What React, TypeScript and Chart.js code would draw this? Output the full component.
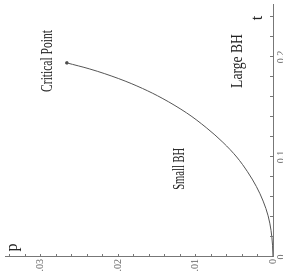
import React, { useEffect, useRef } from "react";
import { Chart, registerables } from "chart.js";

Chart.register(...registerables);

// Coexistence curve p(t)
const tValues = [0, 0.0118, 0.0265, 0.0412, 0.0559, 0.0706, 0.0853, 0.1, 0.1147, 0.1294, 0.1441, 0.1588, 0.1686, 0.1784, 0.1882, 0.1941];
const pValues = [0, 0.00006, 0.00025, 0.00063, 0.00127, 0.00215, 0.00329, 0.00468, 0.00646, 0.00861, 0.01114, 0.0143, 0.01684, 0.0199, 0.0237, 0.02658];

const criticalT = [0.1941];
const criticalP = [0.02658];

const tMajorTicks = [0, 0.1, 0.2];
const tTickLabels = ["0", "0.1", "0.2"];
const tMinorTicks = [0.02, 0.04, 0.06, 0.08, 0.1, 0.12, 0.14, 0.16, 0.18, 0.2, 0.22, 0.24];

const pMajorTicks = [0, 0.01, 0.02, 0.03];
const pTickLabels = ["0", "0.01", "0.02", "0.03"];
const pMinorTicks = [0.002, 0.004, 0.006, 0.008, 0.01, 0.012, 0.014, 0.016, 0.018, 0.02, 0.022, 0.024, 0.026, 0.028, 0.03, 0.032, 0.034];

const annotationTexts = ["Critical Point", "Small BH", "Large BH"];
const annotationT = [0.196, 0.0882, 0.196];
const annotationP = [0.0291, 0.012, 0.0046];
const annotationStretch = [0.72, 0.66, 0.85];

const axisTitles = ["p", "t"];
const axisTitleT = [0.0095, 0.239];
const axisTitleP = [0.0335, 0.0019];

const T_MAX = 0.252;
const P_MAX = 0.03456;

const decorPlugin = {
  id: "decor",
  afterDraw(chart: any) {
    const ctx: CanvasRenderingContext2D = chart.ctx;
    const xs = chart.scales.x;
    const ys = chart.scales.y;
    const area = chart.chartArea;
    ctx.save();
    // inward tick marks
    ctx.strokeStyle = "#777";
    ctx.lineWidth = 1;
    ctx.beginPath();
    tMinorTicks.forEach((v) => {
      const x = Math.round(xs.getPixelForValue(v)) + 0.5;
      ctx.moveTo(x, area.bottom);
      ctx.lineTo(x, area.bottom - 3);
    });
    pMinorTicks.forEach((v) => {
      const y = Math.round(ys.getPixelForValue(v)) + 0.5;
      ctx.moveTo(area.left, y);
      ctx.lineTo(area.left + 3, y);
    });
    ctx.stroke();

    // tick labels
    ctx.fillStyle = "#666";
    ctx.font = "10px 'Liberation Serif'";
    ctx.textAlign = "center";
    ctx.textBaseline = "top";
    tMajorTicks.forEach((v, i) => {
      ctx.fillText(tTickLabels[i], xs.getPixelForValue(v), area.bottom + 3);
    });
    ctx.textAlign = "right";
    ctx.textBaseline = "middle";
    pMajorTicks.forEach((v, i) => {
      ctx.fillText(pTickLabels[i], area.left - 2, ys.getPixelForValue(v));
    });

    // axis titles
    ctx.fillStyle = "#222";
    ctx.font = "16px 'Liberation Serif'";
    ctx.textAlign = "center";
    ctx.textBaseline = "middle";
    axisTitles.forEach((txt, i) => {
      ctx.fillText(txt, xs.getPixelForValue(axisTitleT[i]), ys.getPixelForValue(axisTitleP[i]));
    });

    // annotations (condensed serif)
    annotationTexts.forEach((txt, i) => {
      const x = xs.getPixelForValue(annotationT[i]);
      const y = ys.getPixelForValue(annotationP[i]);
      ctx.save();
      ctx.translate(x, y);
      ctx.scale(annotationStretch[i], 1);
      ctx.fillText(txt, 0, 0);
      ctx.restore();
    });
    ctx.restore();
  },
};

export default function App() {
  const canvasRef = useRef<HTMLCanvasElement | null>(null);

  useEffect(() => {
    if (!canvasRef.current) return;
    const chart = new Chart(canvasRef.current, {
      type: "scatter",
      data: {
        datasets: [
          {
            data: tValues.map((t, i) => ({ x: t, y: pValues[i] })),
            showLine: true,
            borderColor: "#555",
            borderWidth: 1,
            pointRadius: 0,
            cubicInterpolationMode: "monotone",
          },
          {
            data: criticalT.map((t, i) => ({ x: t, y: criticalP[i] })),
            showLine: false,
            pointRadius: 1.5,
            pointStyle: "rect",
            backgroundColor: "#555",
            borderColor: "#444",
            borderWidth: 1,
          },
        ],
      },
      options: {
        responsive: false,
        animation: false,
        devicePixelRatio: 1,
        layout: { padding: { left: 14, right: 0, top: 0, bottom: 10 } },
        plugins: { legend: { display: false }, tooltip: { enabled: false } },
        scales: {
          x: {
            type: "linear",
            min: 0,
            max: T_MAX,
            grid: { display: false, drawTicks: false, tickLength: 0 },
            ticks: { display: false },
            border: { display: true, color: "#777", width: 1 },
          },
          y: {
            type: "linear",
            min: 0,
            max: P_MAX,
            grid: { display: false, drawTicks: false, tickLength: 0 },
            ticks: { display: false },
            border: { display: true, color: "#777", width: 1 },
          },
        },
      },
      plugins: [decorPlugin],
    } as any);
    return () => chart.destroy();
  }, []);

  return (
    <div style={{ position: "fixed", left: 0, top: 0, width: 283, height: 271, overflow: "hidden", background: "#fff" }}>
      <div
        style={{
          position: "absolute",
          left: 6,
          top: -6,
          width: 271,
          height: 283,
          transform: "rotate(-90deg)",
          transformOrigin: "50% 50%",
        }}
      >
        <canvas ref={canvasRef} width={271} height={283} style={{ display: "block", width: 271, height: 283 }} />
      </div>
    </div>
  );
}
